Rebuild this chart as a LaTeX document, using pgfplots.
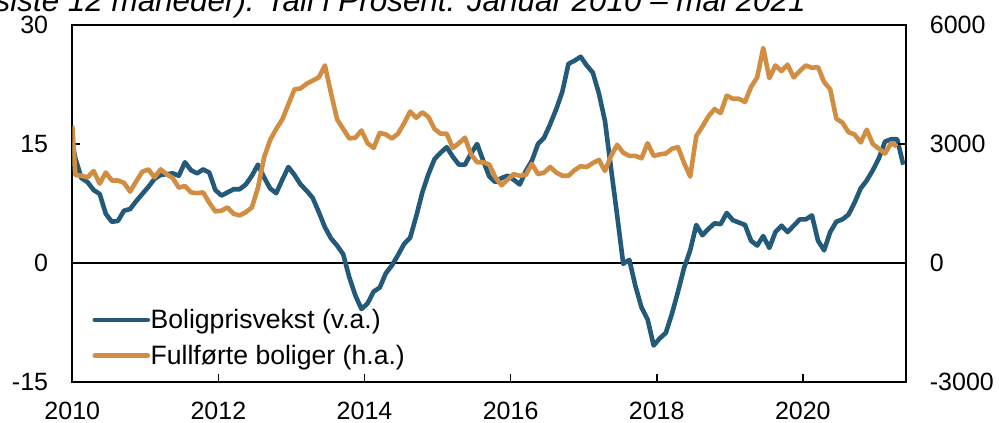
\documentclass[border=0pt]{standalone}
\usepackage{fontspec}
\setmainfont{Liberation Sans}
\usepackage{pgfplots}
\usepackage{pgfplotstable}
\pgfplotsset{compat=1.18}
\definecolor{PrisBlue}{RGB}{35,89,121}
\definecolor{BoligOrange}{RGB}{209,142,66}

% boligprisvekst, prosent (venstre akse); maaned fra jan 2010
\pgfplotstableread[row sep=\\]{
m v\\
0 15.1\\ 0.5 13.2\\ 1.5 10.7\\ 2.5 10.2\\ 3.5 9.2\\ 4.5 8.7\\ 5.5 6.2\\ 6.5 5.2\\ 7.5 5.3\\ 8.5 6.6\\
9.5 6.8\\ 10.5 7.8\\ 11.5 8.7\\ 12.5 9.6\\ 13.5 10.6\\ 14.5 11.1\\ 15.5 11.2\\ 16.5 11.3\\ 17.5 11.0\\ 18.5 12.7\\
19.5 11.7\\ 20.5 11.3\\ 21.5 11.8\\ 22.5 11.4\\ 23.5 9.2\\ 24.5 8.5\\ 25.5 8.9\\ 26.5 9.3\\ 27.5 9.3\\ 28.5 9.9\\
29.5 11.0\\ 30.5 12.4\\ 31.5 10.8\\ 32.5 9.4\\ 33.5 8.8\\ 34.5 10.5\\ 35.5 12.1\\ 36.5 11.1\\ 37.5 9.9\\ 38.5 9.1\\
39.5 8.2\\ 40.5 6.4\\ 41.5 4.5\\ 42.5 3.1\\ 43.5 2.2\\ 44.5 1.1\\ 45.5 -1.8\\ 46.5 -4.1\\ 47.5 -5.8\\ 48.5 -5.1\\
49.5 -3.6\\ 50.5 -3.1\\ 51.5 -1.3\\ 52.5 -0.3\\ 53.5 1.0\\ 54.5 2.4\\ 55.5 3.2\\ 56.5 5.9\\ 57.5 8.9\\ 58.5 11.2\\
59.5 13.1\\ 60.5 13.9\\ 61.5 14.6\\ 62.5 13.4\\ 63.5 12.4\\ 64.5 12.4\\ 65.5 13.8\\ 66.5 15.0\\ 67.5 12.9\\ 68.5 10.9\\
69.5 10.2\\ 70.5 10.7\\ 71.5 11.0\\ 72.5 10.5\\ 73.5 9.9\\ 74.5 11.6\\ 75.5 12.9\\ 76.5 15.0\\ 77.5 15.8\\ 78.5 17.5\\
79.5 19.4\\ 80.5 21.6\\ 81.5 25.1\\ 82.5 25.5\\ 83.5 26.0\\ 84.5 24.9\\ 85.5 24.0\\ 86.5 21.4\\ 87.5 17.9\\ 88.5 11.9\\
89.5 6.0\\ 90.5 -0.1\\ 91.5 0.4\\ 92.5 -2.9\\ 93.5 -5.6\\ 94.5 -7.1\\ 95.5 -10.4\\ 96.5 -9.5\\ 97.5 -8.8\\ 98.5 -6.4\\
99.5 -3.6\\ 100.5 -0.6\\ 101.5 1.6\\ 102.5 4.8\\ 103.5 3.5\\ 104.5 4.3\\ 105.5 5.0\\ 106.5 4.9\\ 107.5 6.3\\ 108.5 5.4\\
109.5 5.1\\ 110.5 4.8\\ 111.5 2.8\\ 112.5 2.2\\ 113.5 3.4\\ 114.5 1.9\\ 115.5 3.9\\ 116.5 4.7\\ 117.5 3.9\\ 118.5 4.7\\
119.5 5.5\\ 120.5 5.5\\ 121.5 6.0\\ 122.5 2.8\\ 123.5 1.6\\ 124.5 3.9\\ 125.5 5.2\\ 126.5 5.5\\ 127.5 6.1\\ 128.5 7.6\\
129.5 9.4\\ 130.5 10.4\\ 131.5 11.7\\ 132.5 13.2\\ 133.5 15.3\\ 134.5 15.6\\ 135.5 15.6\\ 136.5 12.4\\
}\boligpris

% fullfoerte boliger (hoeyre akse)
\pgfplotstableread[row sep=\\]{
m n\\
0 3460\\ 0.5 2220\\ 1.5 2200\\ 2.5 2160\\ 3.5 2320\\ 4.5 2000\\ 5.5 2280\\ 6.5 2080\\ 7.5 2080\\ 8.5 2020\\
9.5 1800\\ 10.5 2060\\ 11.5 2300\\ 12.5 2360\\ 13.5 2160\\ 14.5 2360\\ 15.5 2240\\ 16.5 2140\\ 17.5 1900\\ 18.5 1940\\
19.5 1780\\ 20.5 1760\\ 21.5 1780\\ 22.5 1520\\ 23.5 1300\\ 24.5 1320\\ 25.5 1400\\ 26.5 1240\\ 27.5 1200\\ 28.5 1280\\
29.5 1400\\ 30.5 1900\\ 31.5 2660\\ 32.5 3100\\ 33.5 3380\\ 34.5 3620\\ 35.5 4000\\ 36.5 4380\\ 37.5 4400\\ 38.5 4520\\
39.5 4600\\ 40.5 4680\\ 41.5 4980\\ 42.5 4280\\ 43.5 3620\\ 44.5 3380\\ 45.5 3140\\ 46.5 3160\\ 47.5 3340\\ 48.5 3020\\
49.5 2900\\ 50.5 3280\\ 51.5 3240\\ 52.5 3140\\ 53.5 3260\\ 54.5 3520\\ 55.5 3820\\ 56.5 3660\\ 57.5 3800\\ 58.5 3680\\
59.5 3380\\ 60.5 3260\\ 61.5 3260\\ 62.5 2900\\ 63.5 3020\\ 64.5 3160\\ 65.5 2740\\ 66.5 2540\\ 67.5 2540\\ 68.5 2480\\
69.5 2160\\ 70.5 1960\\ 71.5 2100\\ 72.5 2240\\ 73.5 2200\\ 74.5 2220\\ 75.5 2500\\ 76.5 2240\\ 77.5 2280\\ 78.5 2420\\
79.5 2280\\ 80.5 2200\\ 81.5 2200\\ 82.5 2340\\ 83.5 2440\\ 84.5 2420\\ 85.5 2520\\ 86.5 2600\\ 87.5 2320\\ 88.5 2700\\
89.5 2980\\ 90.5 2780\\ 91.5 2700\\ 92.5 2700\\ 93.5 2640\\ 94.5 3020\\ 95.5 2700\\ 96.5 2740\\ 97.5 2760\\ 98.5 2880\\
99.5 2920\\ 100.5 2520\\ 101.5 2180\\ 102.5 3200\\ 103.5 3440\\ 104.5 3700\\ 105.5 3880\\ 106.5 3780\\ 107.5 4220\\ 108.5 4140\\
109.5 4140\\ 110.5 4060\\ 111.5 4440\\ 112.5 4680\\ 113.5 5420\\ 114.5 4660\\ 115.5 4980\\ 116.5 4840\\ 117.5 5000\\ 118.5 4680\\
119.5 4840\\ 120.5 4980\\ 121.5 4920\\ 122.5 4940\\ 123.5 4560\\ 124.5 4380\\ 125.5 3640\\ 126.5 3540\\ 127.5 3300\\ 128.5 3240\\
129.5 3040\\ 130.5 3360\\ 131.5 3000\\ 132.5 2880\\ 133.5 2760\\ 134.5 3020\\ 135.5 2940\\
}\fullforte

\pgfplotsset{
  felles/.style={
    scale only axis, width=833.4pt, height=357pt,
    at={(0,0)}, anchor=south west,
    xmin=0, xmax=136.9,
    tick align=inside, major tick length=8pt,
    axis line style={line width=1.6pt},
    every tick/.style={black, line width=1.6pt},
    tick label style={font=\fontsize{25}{30}\selectfont, inner sep=0pt},
  },
}

\begin{document}
\begin{tikzpicture}
\begin{axis}[felles,
  ymin=-15, ymax=30,
  ytick={-15,0,15,30}, yticklabels={-15,0,15,30},
  ytick pos=left,
  yticklabel style={xshift=-24pt},
  xtick={0,24,48,72,96,120},
  xticklabels={2010,2012,2014,2016,2018,2020},
  xtick pos=bottom,
  xticklabel style={yshift=-20pt},
  legend style={draw=none, fill=none, at={(0.024,0.205)}, anchor=north west,
    font=\fontsize{26.6}{31}\selectfont, row sep=14pt, inner sep=0pt,
    nodes={inner sep=0.5pt}},
  legend cell align=left,
  legend image code/.code={\draw[#1, line cap=round] (0pt,0pt) -- (53pt,0pt);},
]
\draw[line width=1.6pt] (axis cs:0,0) -- (axis cs:136.9,0);
\addplot[PrisBlue, line width=4.6pt, line join=round] table[x=m, y=v] {\boligpris};
\addlegendentry{Boligprisvekst (v.a.)}
\addlegendimage{BoligOrange, line width=4.6pt}
\addlegendentry{Fullførte boliger (h.a.)}
\end{axis}
\begin{axis}[felles,
  ymin=-3000, ymax=6000,
  ytick={-3000,0,3000,6000}, yticklabels={-3000,0,3000,6000},
  axis y line*=right, axis x line=none,
  yticklabel style={xshift=24pt},
]
\addplot[BoligOrange, line width=4.6pt, line join=round] table[x=m, y=n] {\fullforte};
\end{axis}
\node[anchor=base east, font=\itshape\fontsize{31.4}{36}\selectfont]
  at (737pt,370pt) {(siste 12 måneder). Tall i Prosent. Januar 2010 – mai 2021};
\pgfresetboundingbox
\useasboundingbox (-72.3pt,-41pt) rectangle (926.7pt,382pt);
\end{tikzpicture}
\end{document}
